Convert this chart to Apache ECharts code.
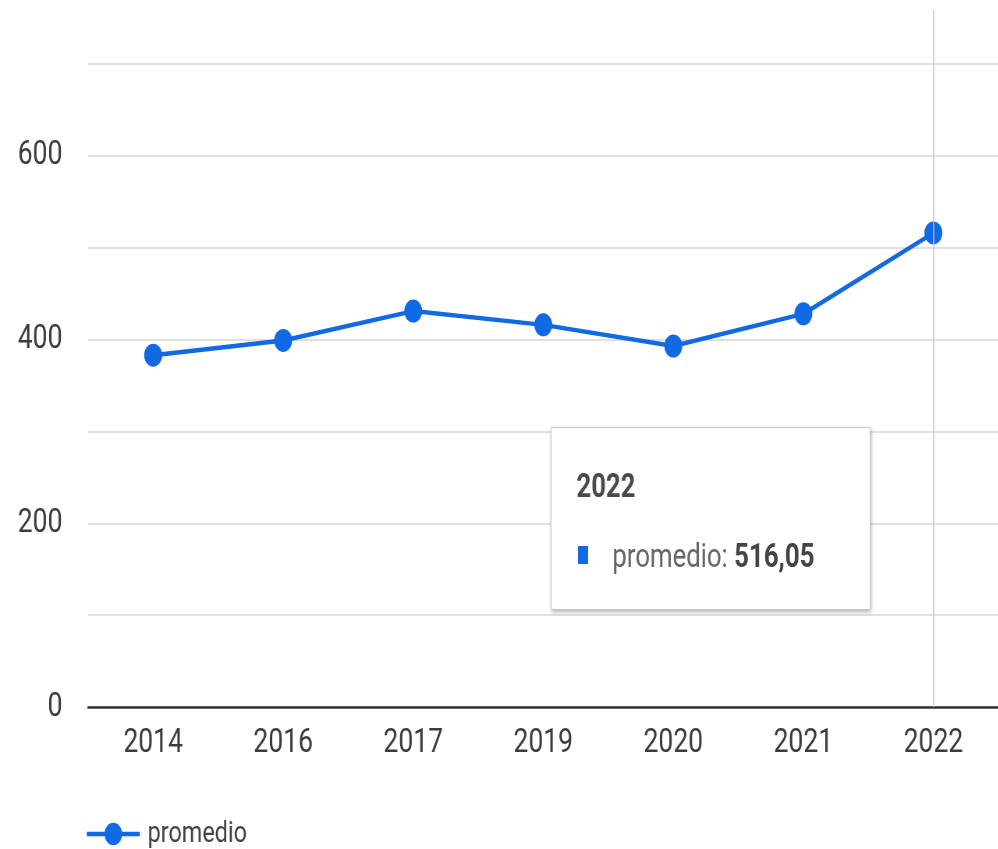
<!DOCTYPE html>
<html><head><meta charset="utf-8">
<script src="https://cdn.jsdelivr.net/npm/echarts@6/dist/echarts.min.js"></script>
<style>
html,body{margin:0;padding:0;overflow:hidden;background:#fff;width:998px;height:849px}
#wrap{width:998px;height:849px;overflow:hidden;position:relative}
#chart{width:1280px;height:849px;transform:scaleX(0.78);transform-origin:0 0;}
</style></head><body><div id="wrap"><div id="chart"></div></div>
<script>
const categories = ['2014', '2016', '2017', '2019', '2020', '2021', '2022'];
const promedio = [383, 399, 431, 416, 393, 428, 516.05];
const seriesName = 'promedio';
const yMin = 0, yMax = 700, yStep = 100, yLabelStep = 200;
const highlightIndex = 6;

const BLUE = '#1169e3';
const FONT = 'Roboto, "Noto Sans", sans-serif';
const fmt = v => v.toFixed(2).replace('.', ',');

const chart = echarts.init(document.getElementById('chart'), null, {renderer: 'canvas'});
chart.setOption({
  animation: false,
  textStyle: {fontFamily: FONT},
  grid: [
    {left: 113, right: 0, top: 64, bottom: 142},
    {left: 113, right: 0, top: 10, bottom: 142}
  ],
  xAxis: [
    {
      type: 'category', data: categories, boundaryGap: true, gridIndex: 0,
      axisLine: {show: true, onZero: false, lineStyle: {color: '#333', width: 2.5}},
      axisTick: {show: false},
      axisLabel: {fontSize: 34, color: '#3c3c3c', margin: 19, fontFamily: FONT},
      splitLine: {show: false}
    },
    {type: 'category', data: categories, boundaryGap: true, gridIndex: 1, show: false}
  ],
  yAxis: [
    {
      type: 'value', min: yMin, max: yMax, interval: yStep, gridIndex: 0,
      axisLine: {show: false}, axisTick: {show: false},
      axisLabel: {
        fontSize: 34, color: '#3c3c3c', margin: 33, fontFamily: FONT,
        formatter: v => (v % yLabelStep === 0 ? String(v) : '')
      },
      splitLine: {show: true, lineStyle: {color: '#d6d6d6', width: 1.6}}
    },
    {type: 'value', min: 0, max: 1, gridIndex: 1, show: false}
  ],
  legend: {
    data: [seriesName], left: 104, top: 814, itemWidth: 68, itemHeight: 28,
    lineStyle: {width: 4.5},
    textStyle: {fontSize: 30, color: '#444', padding: [0, 0, 0, 5], fontFamily: FONT}
  },
  tooltip: {
    show: true, trigger: 'item', triggerOn: 'none', alwaysShowContent: true,
    transitionDuration: 0, position: [706, 427], padding: 0,
    backgroundColor: '#fff', borderColor: '#c8c8c8', borderWidth: 1,
    extraCssText: 'box-shadow: 1px 2px 4px rgba(0,0,0,0.3); border-radius:1px;',
    formatter: p => {
      return '<div style="width:408px;height:181px;position:relative;font-family:Roboto,sans-serif;">' +
        '<div style="position:absolute;left:32px;top:41px;font-size:33px;line-height:33px;font-weight:bold;color:#4a4a4a;">' + p.name + '</div>' +
        '<div style="position:absolute;left:34px;top:118px;width:13px;height:18px;background:' + BLUE + ';"></div>' +
        '<div style="position:absolute;left:78px;top:111px;font-size:33px;line-height:33px;color:#666;white-space:nowrap;">' +
        p.seriesName + ': <b style="color:#444;">' + fmt(p.value) + '</b></div>' +
        '</div>';
    }
  },
  series: [
    {
      name: seriesName, type: 'line', data: promedio, xAxisIndex: 0, yAxisIndex: 0,
      symbol: 'circle', symbolSize: 23, showAllSymbol: true, z: 3,
      lineStyle: {color: BLUE, width: 4.5},
      itemStyle: {color: BLUE},
      emphasis: {scale: 1.1, itemStyle: {shadowBlur: 8, shadowColor: 'rgba(17,105,227,0.5)'}}
    },
    {
      type: 'line', xAxisIndex: 1, yAxisIndex: 1, silent: true, z: 1,
      data: categories.map(() => null), symbol: 'none', tooltip: {show: false},
      lineStyle: {opacity: 0},
      markLine: {
        silent: true, symbol: ['none', 'none'], label: {show: false},
        lineStyle: {color: '#c4c4c4', width: 1.5, type: 'solid'},
        data: [{xAxis: categories[highlightIndex]}]
      }
    }
  ]
});
chart.dispatchAction({type: 'showTip', seriesIndex: 0, dataIndex: highlightIndex});
</script></body></html>
